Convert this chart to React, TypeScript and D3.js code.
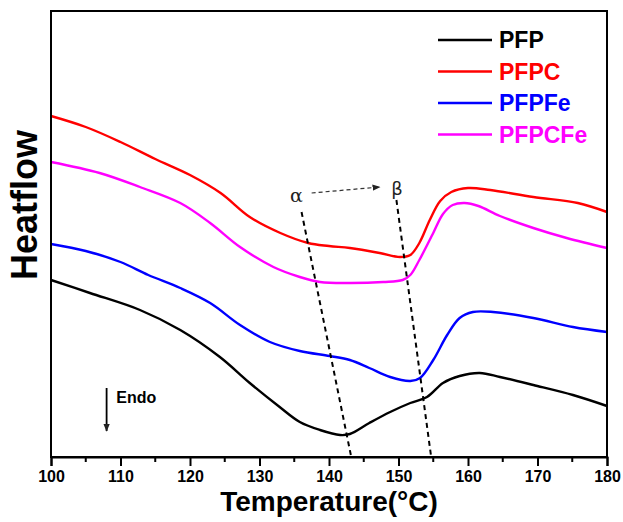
import React, { useEffect, useRef } from 'react'
import * as d3 from 'd3'

// temperatures (°C) where the traces were read, and heatflow in arbitrary units
const redTemps = [100, 105, 110, 115, 120, 124.4, 128.6, 133, 137, 140, 143, 147.3, 150.2, 151.7, 153, 154.5, 156, 157.6, 160, 163.2, 169.4, 175.8, 180]
const redVals = [34.1, 33.0, 31.5, 29.8, 28.2, 26.4, 24.0, 22.4, 21.4, 21.1, 20.9, 20.4, 20.0, 20.2, 21.4, 23.7, 25.6, 26.5, 26.9, 26.7, 26.0, 25.4, 24.5]

const magentaTemps = [100, 107, 112.8, 118.6, 122.9, 127.2, 132, 135.8, 138.7, 143, 147.8, 150.6, 151.7, 153, 155, 156.4, 157.8, 159.5, 161.5, 164.6, 169.4, 174.2, 180]
const magentaVals = [29.5, 28.4, 27.0, 25.4, 23.4, 21.0, 19.0, 18.0, 17.5, 17.4, 17.5, 17.7, 18.2, 19.7, 22.4, 24.3, 25.2, 25.4, 25.1, 24.1, 22.9, 21.9, 20.9]

const blueTemps = [100, 105, 110, 114, 118.6, 122.9, 127.2, 131.5, 135.8, 140.1, 143, 145.8, 148.8, 151.7, 153.1, 155, 157, 158.8, 160.7, 163.6, 169.4, 175.1, 180]
const blueVals = [21.3, 20.6, 19.5, 18.2, 16.9, 15.4, 13.2, 11.5, 10.6, 10.1, 9.7, 8.9, 8.0, 7.6, 7.9, 9.7, 12.2, 13.9, 14.5, 14.5, 13.9, 13.0, 12.5]

const blackTemps = [100, 105.6, 112.8, 118.6, 124.3, 128.6, 132.9, 135.8, 138.7, 141.6, 143, 145.8, 148.8, 151.7, 154.1, 156.4, 158.8, 161.7, 164.6, 169.4, 175.1, 180]
const blackVals = [17.7, 16.4, 14.7, 12.7, 10.0, 7.4, 5.0, 3.5, 2.7, 2.2, 2.3, 3.4, 4.5, 5.4, 6.0, 7.4, 8.1, 8.4, 8.0, 7.2, 6.2, 5.1]

const seriesNames = ['PFP', 'PFPC', 'PFPFe', 'PFPCFe']
const seriesColors = ['#000000', '#ff0000', '#0000ff', '#ff00ff']

const xTicks = [100, 110, 120, 130, 140, 150, 160, 170, 180]
const xMinorTicks = [105, 115, 125, 135, 145, 155, 165, 175]

// dashed guide lines through the alpha and beta peaks: [T top, value top, T bottom, value bottom]
const alphaGuide = [136.05, 24.5, 143.2, 0]
const betaGuide = [149.7, 25.7, 154.7, 0]

export default function App() {
  const svgRef = useRef<SVGSVGElement | null>(null)

  useEffect(() => {
    const svg = d3.select(svgRef.current)
    svg.selectAll('*').remove()

    const width = 623
    const height = 522
    const margin = { top: 11, right: 16, bottom: 65, left: 51 }

    const x = d3.scaleLinear().domain([100, 180]).range([margin.left, width - margin.right])
    const y = d3.scaleLinear().domain([0, 44.6]).range([height - margin.bottom, margin.top])

    const font = 'Liberation Sans, Arial, sans-serif'

    const defs = svg.append('defs')
    defs
      .append('marker')
      .attr('id', 'arrowhead')
      .attr('viewBox', '0 0 10 10')
      .attr('refX', 9)
      .attr('refY', 5)
      .attr('markerWidth', 8)
      .attr('markerHeight', 8)
      .attr('markerUnits', 'userSpaceOnUse')
      .attr('orient', 'auto')
      .append('path')
      .attr('d', 'M0,1 L10,5 L0,9 Z')
      .attr('fill', '#222')

    // curves
    const allSeries = [
      { temps: blackTemps, vals: blackVals, color: seriesColors[0] },
      { temps: redTemps, vals: redVals, color: seriesColors[1] },
      { temps: blueTemps, vals: blueVals, color: seriesColors[2] },
      { temps: magentaTemps, vals: magentaVals, color: seriesColors[3] },
    ]

    const line = d3
      .line<[number, number]>()
      .x((d) => x(d[0]))
      .y((d) => y(d[1]))
      .curve(d3.curveCatmullRom.alpha(0.5))

    allSeries.forEach((s) => {
      const pts = s.temps.map((t, i) => [t, s.vals[i]] as [number, number])
      svg
        .append('path')
        .attr('d', line(pts))
        .attr('fill', 'none')
        .attr('stroke', s.color)
        .attr('stroke-width', 2.4)
        .attr('stroke-linejoin', 'round')
    })

    // dashed alpha / beta guides
    ;[alphaGuide, betaGuide].forEach((g) => {
      svg
        .append('line')
        .attr('x1', x(g[0]))
        .attr('y1', y(g[1]))
        .attr('x2', x(g[2]))
        .attr('y2', y(g[3]))
        .attr('stroke', '#000')
        .attr('stroke-width', 2)
        .attr('stroke-dasharray', '5,4')
    })

    svg
      .append('line')
      .attr('x1', x(137.5))
      .attr('y1', y(26.4))
      .attr('x2', x(147.3))
      .attr('y2', y(27.0))
      .attr('stroke', '#333')
      .attr('stroke-width', 1.2)
      .attr('stroke-dasharray', '4,3')
      .attr('marker-end', 'url(#arrowhead)')

    svg
      .append('text')
      .attr('x', x(135.3))
      .attr('y', y(25.5))
      .attr('text-anchor', 'middle')
      .attr('font-family', 'DejaVu Serif, serif')
      .attr('font-size', 19)
      .attr('fill', '#222')
      .text('α')

    svg
      .append('text')
      .attr('x', x(149.8))
      .attr('y', y(26.2))
      .attr('text-anchor', 'middle')
      .attr('font-family', 'DejaVu Sans, sans-serif')
      .attr('font-size', 18)
      .attr('fill', '#222')
      .text('β')

    // Endo arrow
    svg
      .append('line')
      .attr('x1', x(108))
      .attr('y1', y(6.9))
      .attr('x2', x(108))
      .attr('y2', y(2.6))
      .attr('stroke', '#000')
      .attr('stroke-width', 1.8)
      .attr('marker-end', 'url(#arrowhead)')

    svg
      .append('text')
      .attr('x', x(109.4))
      .attr('y', y(5.4))
      .attr('font-family', font)
      .attr('font-weight', 'bold')
      .attr('font-size', 16)
      .attr('fill', '#000')
      .text('Endo')

    // frame
    svg
      .append('rect')
      .attr('x', margin.left)
      .attr('y', margin.top)
      .attr('width', width - margin.left - margin.right)
      .attr('height', height - margin.top - margin.bottom)
      .attr('fill', 'none')
      .attr('stroke', '#000')
      .attr('stroke-width', 2)

    // x axis
    const xAxisGroup = svg.append('g').attr('transform', `translate(0,${height - margin.bottom})`)
    xAxisGroup
      .call(d3.axisBottom(x).tickValues(xTicks).tickSize(9).tickPadding(5).tickFormat(d3.format('d')))
      .call((g) => g.select('.domain').attr('stroke-width', 2))
      .call((g) => g.selectAll('.tick line').attr('stroke-width', 2))
      .call((g) =>
        g
          .selectAll('.tick text')
          .attr('font-family', font)
          .attr('font-weight', 'bold')
          .attr('font-size', 16)
          .attr('fill', '#000')
      )

    xAxisGroup
      .selectAll('.minor')
      .data(xMinorTicks)
      .enter()
      .append('line')
      .attr('x1', (d) => x(d))
      .attr('x2', (d) => x(d))
      .attr('y1', 0)
      .attr('y2', 5)
      .attr('stroke', '#000')
      .attr('stroke-width', 2)

    svg
      .append('text')
      .attr('x', (margin.left + width - margin.right) / 2)
      .attr('y', 511)
      .attr('text-anchor', 'middle')
      .attr('font-family', font)
      .attr('font-weight', 'bold')
      .attr('font-size', 28)
      .attr('fill', '#000')
      .text('Temperature(°C)')

    svg
      .append('text')
      .attr('transform', `translate(37,205) rotate(-90)`)
      .attr('text-anchor', 'middle')
      .attr('font-family', font)
      .attr('font-weight', 'bold')
      .attr('font-size', 36)
      .attr('fill', '#000')
      .text('Heatflow')

    // legend
    const legend = svg.append('g').attr('transform', 'translate(438,40)')
    seriesNames.forEach((name, i) => {
      const row = legend.append('g').attr('transform', `translate(0,${i * 31.5})`)
      row
        .append('line')
        .attr('x1', 0)
        .attr('x2', 54)
        .attr('y1', 0)
        .attr('y2', 0)
        .attr('stroke', seriesColors[i])
        .attr('stroke-width', 2.4)
      row
        .append('text')
        .attr('x', 61)
        .attr('y', 8)
        .attr('font-family', font)
        .attr('font-weight', 'bold')
        .attr('font-size', 23)
        .attr('fill', seriesColors[i])
        .text(name)
    })
  }, [])

  return (
    <svg
      ref={svgRef}
      width={623}
      height={522}
      style={{ position: 'absolute', left: 0, top: 0, background: '#fff' }}
    ></svg>
  )
}
